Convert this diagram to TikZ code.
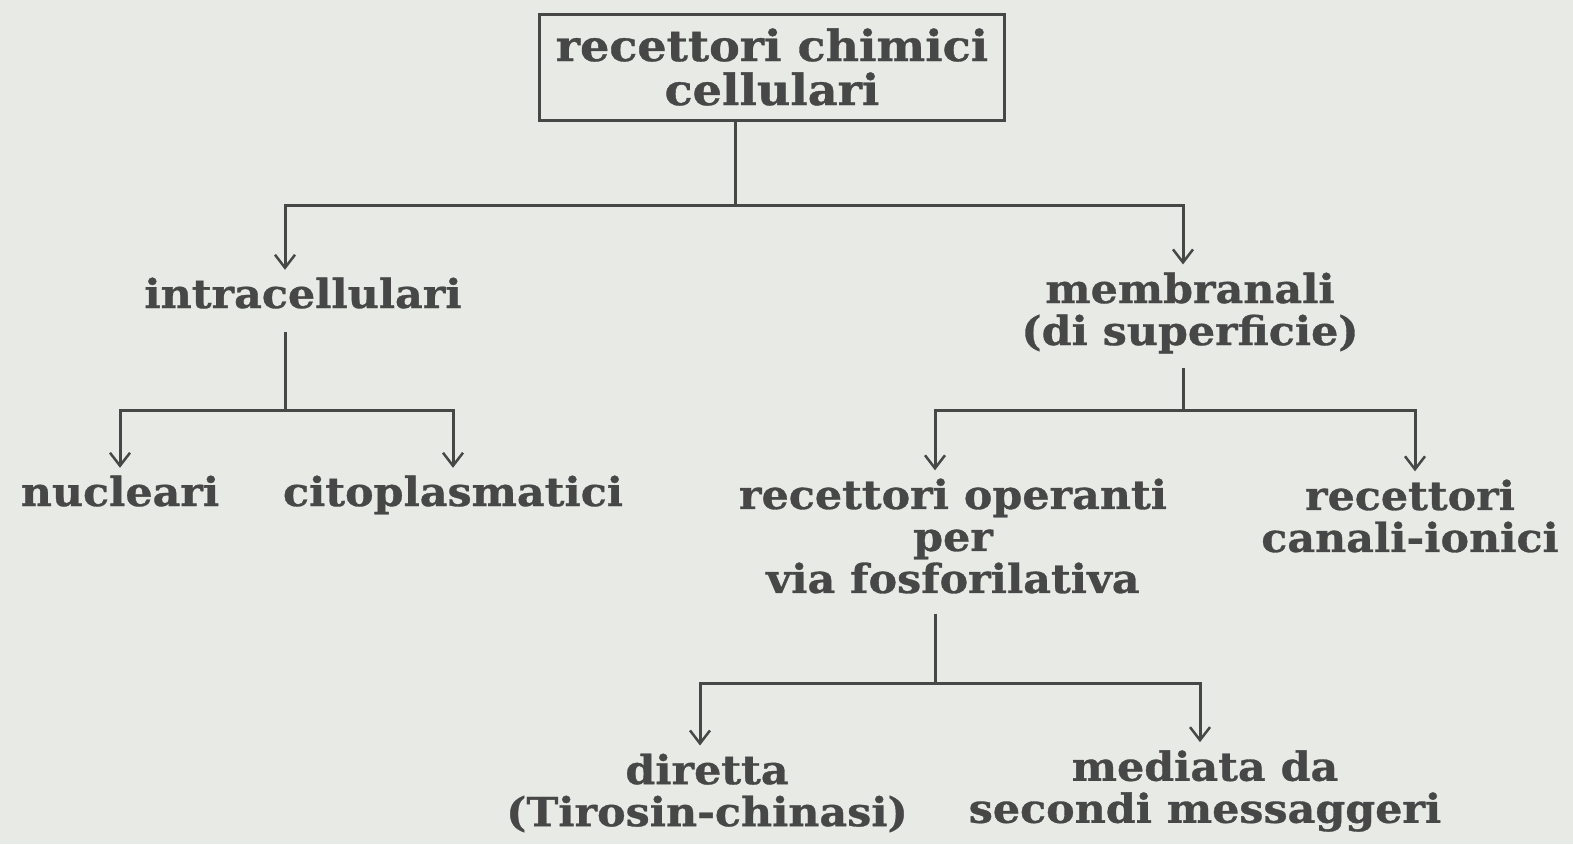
\documentclass[tikz,border=0pt]{standalone}
\usepackage{fontspec}
\setmainfont{DejaVu Serif}[BoldFont={* Bold},BoldFeatures={FakeStretch=1.07,FakeBold=0.8}]
\usetikzlibrary{arrows.meta}
\definecolor{paper}{HTML}{E7EAE5}
\definecolor{ink}{HTML}{474747}
\begin{document}
\begin{tikzpicture}[x=1pt,y=-1pt,
  lbl/.style={inner sep=0pt,align=center,text=ink,
    font=\fontsize{40}{42}\selectfont\bfseries},
  oneline/.style={lbl,text height=30pt,text depth=10pt},
  topbox/.style={lbl,font=\fontsize{43}{44}\selectfont\bfseries,
    draw=ink,line width=3pt,minimum width=465pt,minimum height=106pt},
  link/.style={draw=ink,line width=3pt},
  arrow/.style={link,-{Straight Barb[length=13pt,width=20pt,line width=2.5pt]},shorten >=8pt}]
  \fill[paper] (0,0) rectangle (1573,844);
  \useasboundingbox (0,0) rectangle (1573,844);

  % nodes of the tree
  \node[topbox] (root) at (772,67) {recettori chimici\\cellulari};
  \node[oneline] (intra) at (303,298) {intracellulari};
  \node[lbl] (memb) at (1190,313) {membranali\\(di superficie)};
  \node[oneline] (nucl) at (120,496) {nucleari};
  \node[oneline] (cito) at (453,496) {citoplasmatici};
  \node[lbl] (fosf) at (953,536) {recettori operanti\\per\\via fosforilativa};
  \node[lbl] (ioni) at (1410,516) {recettori\\canali-ionici};
  \node[lbl] (dir) at (707,793) {diretta\\(Tirosin-chinasi)};
  \node[lbl] (med) at (1205,791) {mediata da\\secondi messaggeri};

  % branch points
  \coordinate (b0) at (735,205);
  \coordinate (b1) at (285,410);
  \coordinate (b2) at (1183,410);
  \coordinate (b3) at (935,683);

  % connectors
  \draw[link] (root.south -| b0) -- (b0);
  \draw[arrow] (b0) -| ([xshift=-18pt]intra.north);
  \draw[arrow] (b0) -| ([xshift=-7pt]memb.north);
  \draw[link] ([yshift=-14pt]intra.south -| b1) -- (b1);
  \draw[arrow] (b1) -| (nucl.north);
  \draw[arrow] (b1) -| (cito.north);
  \draw[link] ([yshift=-14pt]memb.south -| b2) -- (b2);
  \draw[arrow] (b2) -| ([xshift=-18pt]fosf.north);
  \draw[arrow] (b2) -| ([xshift=5pt]ioni.north);
  \draw[link] ([yshift=-20pt]fosf.south -| b3) -- (b3);
  \draw[arrow] (b3) -| ([xshift=-7pt]dir.north);
  \draw[arrow] (b3) -| ([xshift=-5pt]med.north);
\end{tikzpicture}
\end{document}
